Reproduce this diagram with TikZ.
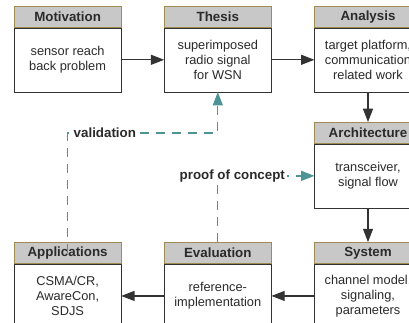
\documentclass[tikz,border=0pt]{standalone}
\usepackage{fontspec}
\setmainfont{Liberation Sans}
\usepackage{xcolor}
\usetikzlibrary{arrows.meta, positioning}
\definecolor{headfill}{HTML}{C8C8C8}
\definecolor{headline}{HTML}{A08C50}
\definecolor{boxline}{HTML}{333333}
\definecolor{linkteal}{HTML}{4E9494}
\definecolor{textgray}{HTML}{2A2A2A}

\begin{document}
\begin{tikzpicture}[->, >={Triangle[length=10pt,width=7.5pt]}, x=0.75pt, y=-0.75pt]
    \tikzstyle{head} = [draw=headline, fill=headfill, text=textgray, font=\bfseries, minimum width=80pt, minimum height=15.75pt, inner sep=0pt]
    \tikzstyle{body} = [draw=boxline, fill=white, text=textgray, font=\fontsize{9.6}{11.25}\selectfont, align=center, minimum width=80pt, minimum height=48pt, inner sep=0pt]
    \tikzstyle{flow} = [line width=0.9pt, draw=boxline]
    \tikzstyle{link} = [line width=1pt, color=linkteal, dash pattern=on 6.75pt off 5.25pt]
    \tikzstyle{tag} = [fill=white, text=textgray, font=\bfseries, inner sep=1.5pt]
    \useasboundingbox (0,0) rectangle (409,323);
    % top row
    \node [head, anchor=north west] at (14,6) (motiv) {Motivation};
    \node [body, below=0pt of motiv] (motivbody) {sensor reach\\back problem};
    \node [head, right=32.25pt of motiv] (thesis) {Thesis};
    \node [body, below=0pt of thesis] (thesisbody) {superimposed\\radio signal\\for WSN};
    \node [head, right=32.25pt of thesis] (analysis) {Analysis};
    \node [body, below=0pt of analysis] (analysisbody) {target platform,\\communication\\related work};
    % right column
    \node [head, below=22.5pt of analysisbody] (arch) {Architecture};
    \node [body, below=0pt of arch] (archbody) {transceiver,\\signal flow};
    % bottom row
    \node [head, below=25.5pt of archbody] (system) {System};
    \node [body, below=0pt of system] (systembody) {channel model,\\signaling,\\parameters};
    \node [head, left=32.25pt of system] (eval) {Evaluation};
    \node [body, below=0pt of eval] (evalbody) {reference-\\implementation};
    \node [head, left=32.25pt of eval] (apps) {Applications};
    \node [body, below=0pt of apps] (appsbody) {CSMA/CR,\\AwareCon,\\SDJS};
    \draw [flow] (motivbody.east) to (thesisbody.west);
    \draw [flow] (thesisbody.east) to (analysisbody.west);
    \draw [flow] (analysisbody.south) to (arch.north);
    \draw [flow] (archbody.south) to (system.north);
    \draw [flow] (systembody.west) to (evalbody.east);
    \draw [flow] (evalbody.west) to (appsbody.east);
    % feedback
    \coordinate (valturn) at (thesisbody.south |- 0,133);
    \draw [link] (apps.center) |- node [tag, pos=0.624] {validation} (valturn) -- (thesisbody.south);
    \draw [link] (eval.north) |- node [tag, pos=0.575] {proof of concept} (archbody.west);
\end{tikzpicture}
\end{document}
